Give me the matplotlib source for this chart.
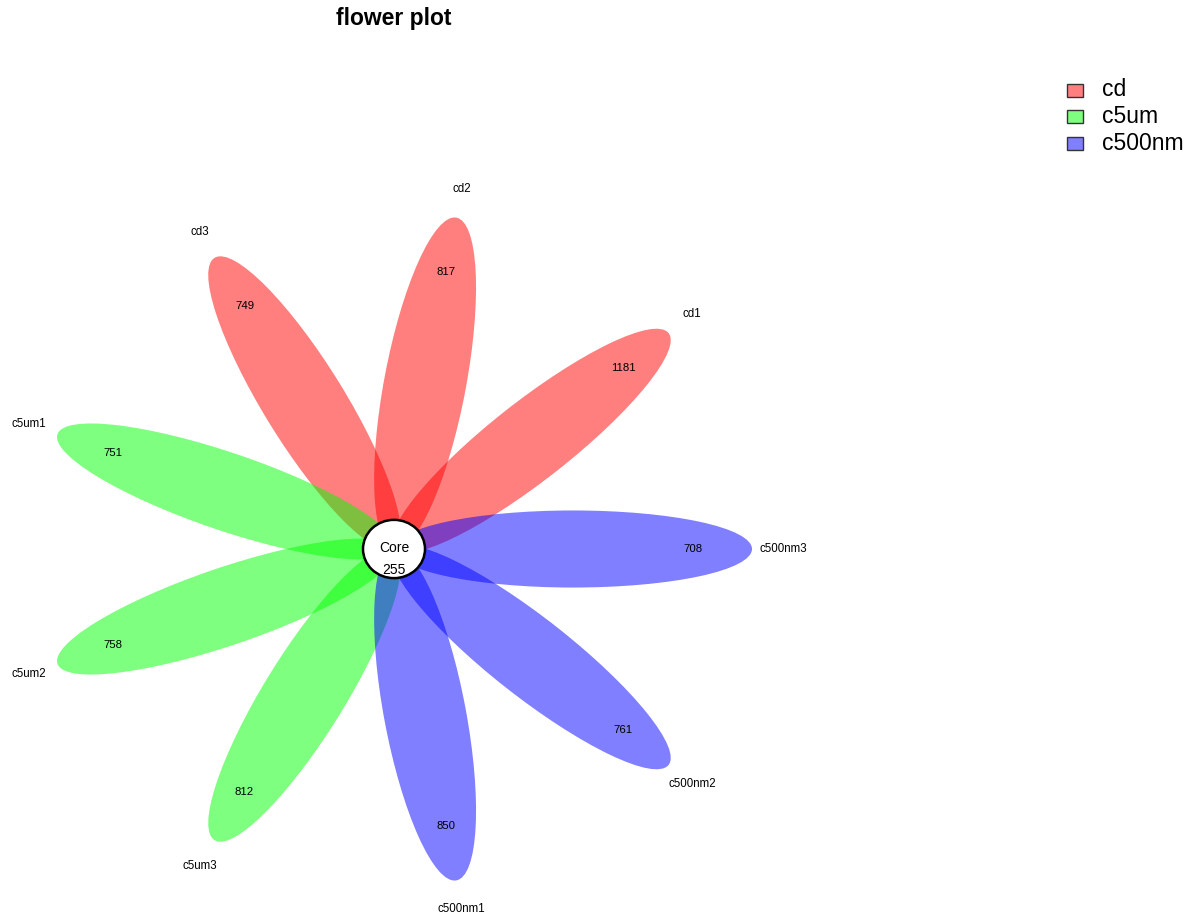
import numpy as np
import matplotlib
matplotlib.use("Agg")
import matplotlib.pyplot as plt
from matplotlib.patches import Ellipse, Rectangle

plt.rcParams['font.family'] = ['Liberation Sans', 'DejaVu Sans']

# Petal data
samples = ["cd1", "cd2", "cd3", "c5um1", "c5um2", "c5um3",
           "c500nm1", "c500nm2", "c500nm3"]
values = [1181, 817, 749, 751, 758, 812, 850, 761, 708]
groups = ["cd", "c5um", "c500nm"]
group_colors = [(1, 0, 0, 0.5), (0, 1, 0, 0.5), (0, 0, 1, 0.5)]
core_label = "Core"
core_value = 255

W, H = 1193, 914
fig = plt.figure(figsize=(W / 100, H / 100), dpi=100)
ax = fig.add_axes([0, 0, 1, 1])
ax.set_axis_off()

# Plot region: flower centre in the left part, y slightly compressed
cx_px, cy_px = 394, 549
yscale = 0.94
ax.set_xlim(-cx_px, W - cx_px)
ax.set_ylim(-(H - cy_px) / yscale, cy_px / yscale)
ax.set_aspect('auto')

petal_len = 358.0
a = petal_len / 2
b = 41.0
n = len(samples)
step = 360.0 / n

for i, (name, val) in enumerate(zip(samples, values)):
    ang = step * (i + 1)
    t = np.deg2rad(ang)
    col = group_colors[i // 3]
    ax.add_patch(Ellipse((a * np.cos(t), a * np.sin(t)), 2 * a, 2 * b,
                         angle=ang, facecolor=col, edgecolor='none', zorder=2))
    r_val = petal_len * 0.835
    ax.text(r_val * np.cos(t), r_val * np.sin(t), str(val),
            ha='center', va='center', fontsize=8.2, color='black', zorder=4)
    r_lab = 389
    ax.text(r_lab * np.cos(t), r_lab * np.sin(t), name,
            ha='center', va='center', fontsize=8.3, color='black', zorder=4)

# Core circle
ax.add_patch(Ellipse((0, 0), 62, 62, facecolor='white', edgecolor='black',
                     linewidth=1.8, zorder=5))
ax.text(0, 1 / yscale, core_label, ha='center', va='center', fontsize=10,
        zorder=6)
ax.text(0, -21 / yscale, str(core_value), ha='center', va='center',
        fontsize=10, zorder=6)

# Title
fig.text(394 / W, 1 - 19 / H, "flower plot", ha='center', va='center',
         fontsize=16.5, fontweight='bold')

# Legend
for k, (g, c) in enumerate(zip(groups, group_colors)):
    yc = 90 + 26.5 * k
    fig.patches.append(Rectangle((1067 / W, 1 - (yc + 6.5) / H), 16 / W, 13 / H,
                                 transform=fig.transFigure, facecolor=c,
                                 edgecolor='#333333', linewidth=1.0))
    fig.text(1102 / W, 1 - yc / H, g, ha='left', va='center', fontsize=16.5)

fig.savefig("out.png", dpi=100, facecolor='white')
